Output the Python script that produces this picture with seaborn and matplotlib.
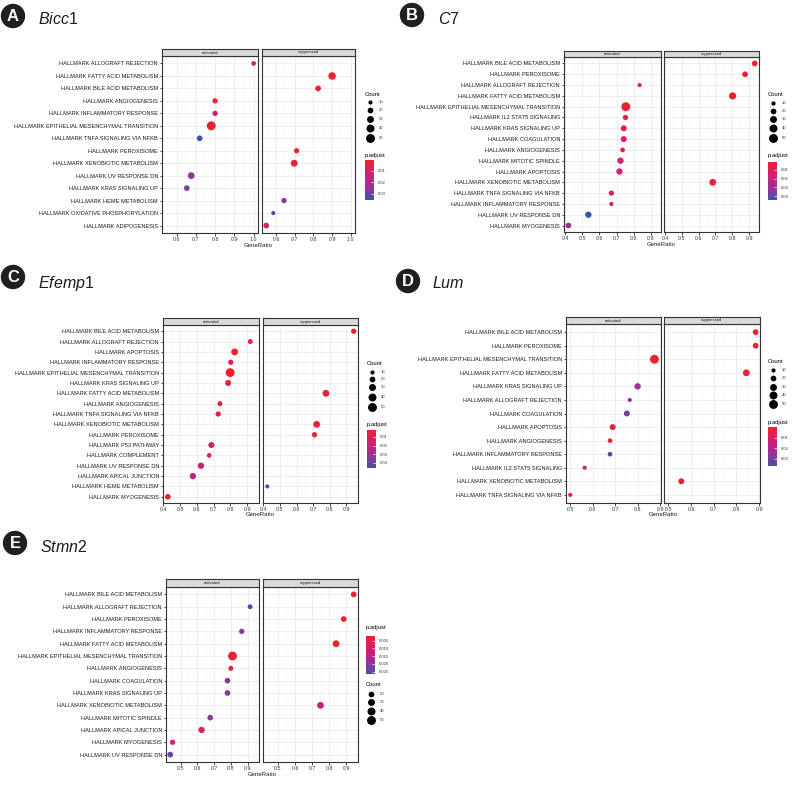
import numpy as np
import pandas as pd
import seaborn as sns
import matplotlib.pyplot as plt
from matplotlib.colors import LinearSegmentedColormap, Normalize
from matplotlib.ticker import MultipleLocator, FormatStrFormatter
from matplotlib.patches import Circle
import matplotlib.cm as cm

# ---------------- data ----------------
bicc1_terms = ["ALLOGRAFT REJECTION", "FATTY ACID METABOLISM", "BILE ACID METABOLISM", "ANGIOGENESIS",
               "INFLAMMATORY RESPONSE", "EPITHELIAL MESENCHYMAL TRANSITION", "TNFA SIGNALING VIA NFKB",
               "PEROXISOME", "XENOBIOTIC METABOLISM", "UV RESPONSE DN", "KRAS SIGNALING UP",
               "HEME METABOLISM", "OXIDATIVE PHOSPHORYLATION", "ADIPOGENESIS"]
bicc1_group = ["a", "s", "s", "a", "a", "a", "a", "s", "s", "a", "a", "s", "s", "s"]
bicc1_ratio = [1.00, 0.90, 0.825, 0.80, 0.80, 0.78, 0.72, 0.71, 0.697, 0.676, 0.653, 0.642, 0.585, 0.547]
bicc1_count = [13, 35, 20, 17, 17, 50, 20, 17, 29, 29, 20, 17, 8, 20]
bicc1_padj = [0.013, 0.001, 0.002, 0.002, 0.014, 0.0005, 0.035, 0.002, 0.001, 0.026, 0.029, 0.025, 0.035, 0.010]

c7_terms = ["BILE ACID METABOLISM", "PEROXISOME", "ALLOGRAFT REJECTION", "FATTY ACID METABOLISM",
            "EPITHELIAL MESENCHYMAL TRANSITION", "IL2 STAT5 SIGNALING", "KRAS SIGNALING UP", "COAGULATION",
            "ANGIOGENESIS", "MITOTIC SPINDLE", "APOPTOSIS", "XENOBIOTIC METABOLISM", "TNFA SIGNALING VIA NFKB",
            "INFLAMMATORY RESPONSE", "UV RESPONSE DN", "MYOGENESIS"]
c7_group = ["s", "s", "a", "s", "a", "a", "a", "a", "a", "a", "a", "s", "a", "a", "a", "a"]
c7_ratio = [0.933, 0.876, 0.834, 0.802, 0.754, 0.752, 0.742, 0.742, 0.735, 0.723, 0.717, 0.684, 0.67, 0.67, 0.536, 0.42]
c7_count = [20, 20, 8, 32, 50, 17, 22, 22, 13, 25, 25, 29, 17, 10, 25, 20]
c7_padj = [0.002, 0.003, 0.012, 0.002, 0.0015, 0.008, 0.006, 0.014, 0.004, 0.020, 0.017, 0.002, 0.010, 0.011, 0.044, 0.030]

efemp1_terms = ["BILE ACID METABOLISM", "ALLOGRAFT REJECTION", "APOPTOSIS", "INFLAMMATORY RESPONSE",
                "EPITHELIAL MESENCHYMAL TRANSITION", "KRAS SIGNALING UP", "FATTY ACID METABOLISM", "ANGIOGENESIS",
                "TNFA SIGNALING VIA NFKB", "XENOBIOTIC METABOLISM", "PEROXISOME", "P53 PATHWAY", "COMPLEMENT",
                "UV RESPONSE DN", "APICAL JUNCTION", "HEME METABOLISM", "MYOGENESIS"]
efemp1_group = ["s", "a", "a", "a", "a", "a", "s", "a", "a", "s", "s", "a", "a", "a", "a", "s", "a"]
efemp1_ratio = [0.944, 0.918, 0.825, 0.802, 0.798, 0.786, 0.777, 0.737, 0.727, 0.721, 0.708, 0.686, 0.673,
                0.624, 0.576, 0.424, 0.427]
efemp1_count = [17, 15, 29, 17, 50, 22, 29, 15, 17, 29, 17, 22, 13, 25, 25, 10, 20]
efemp1_padj = [0.002, 0.010, 0.003, 0.012, 0.002, 0.006, 0.002, 0.003, 0.010, 0.003, 0.003, 0.017, 0.011,
               0.018, 0.022, 0.046, 0.003]

lum_terms = ["BILE ACID METABOLISM", "PEROXISOME", "EPITHELIAL MESENCHYMAL TRANSITION", "FATTY ACID METABOLISM",
             "KRAS SIGNALING UP", "ALLOGRAFT REJECTION", "COAGULATION", "APOPTOSIS", "ANGIOGENESIS",
             "INFLAMMATORY RESPONSE", "IL2 STAT5 SIGNALING", "XENOBIOTIC METABOLISM", "TNFA SIGNALING VIA NFKB"]
lum_group = ["s", "s", "a", "s", "a", "a", "a", "a", "a", "a", "a", "s", "a"]
lum_ratio = [0.885, 0.885, 0.875, 0.844, 0.80, 0.765, 0.752, 0.689, 0.677, 0.677, 0.564, 0.557, 0.50]
lum_count = [20, 20, 50, 29, 25, 10, 22, 22, 13, 13, 8, 22, 8]
lum_padj = [0.001, 0.001, 0.0001, 0.001, 0.024, 0.022, 0.030, 0.002, 0.003, 0.036, 0.017, 0.001, 0.008]

stmn2_terms = ["BILE ACID METABOLISM", "ALLOGRAFT REJECTION", "PEROXISOME", "INFLAMMATORY RESPONSE",
               "FATTY ACID METABOLISM", "EPITHELIAL MESENCHYMAL TRANSITION", "ANGIOGENESIS", "COAGULATION",
               "KRAS SIGNALING UP", "XENOBIOTIC METABOLISM", "MITOTIC SPINDLE", "APICAL JUNCTION",
               "MYOGENESIS", "UV RESPONSE DN"]
stmn2_group = ["s", "a", "s", "a", "s", "a", "a", "a", "a", "s", "a", "a", "a", "a"]
stmn2_ratio = [0.943, 0.915, 0.885, 0.865, 0.84, 0.81, 0.80, 0.78, 0.78, 0.749, 0.677, 0.625, 0.452, 0.438]
stmn2_count = [20, 14, 20, 17, 29, 55, 15, 20, 20, 29, 20, 25, 17, 20]
stmn2_padj = [0.002, 0.0265, 0.003, 0.021, 0.002, 0.002, 0.003, 0.020, 0.021, 0.012, 0.020, 0.009, 0.012, 0.023]

# ---------------- style ----------------
W, H = 793, 788
plt.rcParams['font.family'] = ['Liberation Sans', 'DejaVu Sans']
plt.rcParams['mathtext.fontset'] = 'custom'
plt.rcParams['mathtext.it'] = 'Liberation Sans:italic'
plt.rcParams['mathtext.rm'] = 'Liberation Sans'

cmap = LinearSegmentedColormap.from_list(
    "padj", ["#EF2130", "#DC1F5E", "#BE2488", "#8B399B", "#3C54A4"])
SIZE_NORM = (10, 50)
SIZES = (9, 41)


def size_of(c):
    return SIZES[0] + (c - SIZE_NORM[0]) / (SIZE_NORM[1] - SIZE_NORM[0]) * (SIZES[1] - SIZES[0])


def box(l, t, r, b):
    return [l / W, 1 - b / H, (r - l) / W, (b - t) / H]


fig = plt.figure(figsize=(W / 100, H / 100), dpi=100)
ov = fig.add_axes([0, 0, 1, 1])
ov.set_xlim(0, W)
ov.set_ylim(H, 0)
ov.axis('off')


def draw_panel(letter, title, terms, group, ratio, count, padj, lay):
    df = pd.DataFrame({"Description": ["HALLMARK " + t for t in terms], "grp": group,
                       "GeneRatio": ratio, "Count": count, "p.adjust": padj})
    n = len(df)
    df["row"] = np.arange(n)
    lo, hi = df["GeneRatio"].min(), df["GeneRatio"].max()
    pad = 0.05 * (hi - lo)
    vmin, vmax = lay["prange"]

    st, sb, pb = lay["strip"][0], lay["strip"][1], lay["bottom"]
    for k, (key, name) in enumerate([("a", "activated"), ("s", "suppressed")]):
        l, r = lay["cols"][k]
        ax = fig.add_axes(box(l, sb, r, pb))
        sns.scatterplot(data=df[df["grp"] == key], x="GeneRatio", y="row", hue="p.adjust",
                        size="Count", palette=cmap, hue_norm=(vmin, vmax), sizes=SIZES,
                        size_norm=SIZE_NORM, linewidth=0, legend=False, ax=ax, zorder=3)
        ax.set_xlim(lo - pad, hi + pad)
        ax.set_ylim(n - 1 + 0.6, -0.6)
        ax.xaxis.set_major_locator(MultipleLocator(0.1))
        ax.xaxis.set_minor_locator(MultipleLocator(0.05))
        ax.xaxis.set_major_formatter(FormatStrFormatter('%.1f'))
        ax.set_yticks(np.arange(n))
        if k == 0:
            ax.set_yticklabels(df["Description"], fontsize=4.1, color='#1a1a1a')
            ax.tick_params(axis='y', length=1.8, width=0.5, pad=1)
        else:
            ax.set_yticklabels([])
            ax.tick_params(axis='y', length=0)
        ax.tick_params(axis='x', which='major', labelsize=3.8, labelcolor='#333333', length=1.8,
                       width=0.5, pad=1)
        ax.tick_params(axis='x', which='minor', length=0)
        ax.grid(which='major', color='#EBEBEB', lw=0.6)
        ax.grid(which='minor', axis='x', color='#F2F2F2', lw=0.35)
        ax.set_axisbelow(True)
        ax.set_xlabel("")
        ax.set_ylabel("")
        for sp in ax.spines.values():
            sp.set_color('#333333')
            sp.set_linewidth(0.8)
        sax = fig.add_axes(box(l, st, r, sb))
        sax.set_facecolor('#D9D9D9')
        sax.set_xticks([])
        sax.set_yticks([])
        for sp in sax.spines.values():
            sp.set_color('#333333')
            sp.set_linewidth(0.8)
        sax.text(0.5, 0.5, name, ha='center', va='center', fontsize=3, color='#1a1a1a',
                 transform=sax.transAxes)

    xc = (lay["cols"][0][0] + lay["cols"][1][1]) / 2
    ov.text(xc, pb + 12, "GeneRatio", ha='center', va='center', fontsize=4.3, color='#1a1a1a')

    # panel badge and title
    cx, cy = lay["badge"]
    ov.add_patch(Circle((cx, cy), 11.5, color='#231F20'))
    ov.text(cx, cy + 0.5, letter, ha='center', va='center', color='white', fontsize=12,
            fontweight='bold')
    ov.text(lay["title"][0], lay["title"][1], title, ha='left', va='center', fontsize=11.5,
            color='#1a1a1a')

    # legends
    lx = lay["leg_x"]
    ov.text(lx, lay["count_y"], "Count", ha='left', va='center', fontsize=4.2)
    for lv, yy in zip(lay["count_levels"], lay["count_dots"]):
        ov.scatter([lx + 5], [yy], s=size_of(lv), color='black', linewidth=0)
        ov.text(lx + 14, yy, str(lv), ha='left', va='center', fontsize=3, color='#333333')
    ov.text(lx, lay["padj_y"], "p.adjust", ha='left', va='center', fontsize=4.2)
    bt, bb = lay["bar"]
    cax = fig.add_axes(box(lx, bt, lx + 8.5, bb))
    fig.colorbar(cm.ScalarMappable(norm=Normalize(vmin, vmax), cmap=cmap), cax=cax)
    cax.invert_yaxis()
    cax.set_yticks(lay["pticks"])
    cax.set_yticklabels([lay["pfmt"] % v for v in lay["pticks"]])
    cax.tick_params(axis='y', labelsize=3, labelcolor='#333333', direction='in', color='white',
                    length=2.5, width=0.5, pad=3)
    for sp in cax.spines.values():
        sp.set_visible(False)


draw_panel("A", r"$\it{Bicc}$1", bicc1_terms, bicc1_group, bicc1_ratio, bicc1_count, bicc1_padj,
           dict(cols=[(162, 258), (262, 355)], strip=(49, 56), bottom=233, prange=(0.0005, 0.0355),
                badge=(13, 16), title=(38, 19), leg_x=365, count_y=94,
                count_levels=[10, 20, 30, 40, 50], count_dots=[102, 110, 118.5, 127.5, 137.5],
                padj_y=155, bar=(160, 200), pticks=[0.01, 0.02, 0.03], pfmt='%.2f'))
draw_panel("B", r"$\it{C7}$", c7_terms, c7_group, c7_ratio, c7_count, c7_padj,
           dict(cols=[(564, 661), (664, 759)], strip=(51, 57), bottom=232, prange=(0.0015, 0.044),
                badge=(412, 15), title=(438, 19), leg_x=768, count_y=94,
                count_levels=[10, 20, 30, 40, 50], count_dots=[103, 111, 119, 128, 138],
                padj_y=155, bar=(162, 200), pticks=[0.01, 0.02, 0.03, 0.04], pfmt='%.2f'))
draw_panel("C", r"$\it{Efemp}$1", efemp1_terms, efemp1_group, efemp1_ratio, efemp1_count, efemp1_padj,
           dict(cols=[(163, 259), (263, 358)], strip=(318, 325), bottom=503, prange=(0.0019, 0.046),
                badge=(13, 277), title=(38, 283), leg_x=367, count_y=363,
                count_levels=[10, 20, 30, 40, 50], count_dots=[372, 379, 387, 397, 407],
                padj_y=424, bar=(430, 468), pticks=[0.01, 0.02, 0.03, 0.04], pfmt='%.2f'))
draw_panel("D", r"$\it{Lum}$", lum_terms, lum_group, lum_ratio, lum_count, lum_padj,
           dict(cols=[(566, 661), (664, 760)], strip=(317, 324), bottom=503, prange=(0.0001, 0.0366),
                badge=(408, 281), title=(432, 283), leg_x=768, count_y=361,
                count_levels=[10, 20, 30, 40, 50], count_dots=[370, 378, 387, 395, 404],
                padj_y=422, bar=(427, 466), pticks=[0.01, 0.02, 0.03], pfmt='%.2f'))
draw_panel("E", r"$\it{Stmn2}$", stmn2_terms, stmn2_group, stmn2_ratio, stmn2_count, stmn2_padj,
           dict(cols=[(166, 259), (263, 358)], strip=(579, 587), bottom=762, prange=(0.002, 0.0265),
                badge=(15, 543), title=(40, 547), leg_x=366, count_y=685,
                count_levels=[20, 30, 40, 50], count_dots=[694, 702, 711, 720],
                padj_y=628, bar=(636, 674), pticks=[0.005, 0.010, 0.015, 0.020, 0.025], pfmt='%.3f'))

fig.savefig("out.png", dpi=100)
